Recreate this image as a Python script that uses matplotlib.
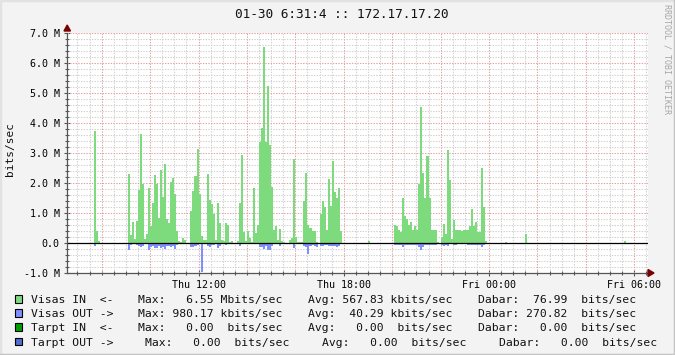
import numpy as np
import matplotlib
matplotlib.use("Agg")
import matplotlib.pyplot as plt
from matplotlib.lines import Line2D
from matplotlib.patches import Rectangle, Polygon

# ---------------- data (Mbit/s, 5-minute samples) ----------------
title = "01-30 6:31:4 :: 172.17.17.20"
y_label = "bits/sec"
watermark = "RRDTOOL / TOBI OETIKER"

# window: Thu 06:34 -> Fri 06:34 (hours since Thu 00:00)
window_start = 6 + 34 / 60
window_end = window_start + 24
slot0_hour = 6.0          # first 5-minute slot starts Thu 06:00

x_tick_hours = [12, 18, 24, 30]
x_tick_labels = ["Thu 12:00", "Thu 18:00", "Fri 00:00", "Fri 06:00"]
y_tick_values = [7, 6, 5, 4, 3, 2, 1, 0, -1]
y_tick_labels = ["7.0 M", "6.0 M", "5.0 M", "4.0 M", "3.0 M", "2.0 M", "1.0 M", "0.0", "-1.0 M"]

# start slot (5-min index from Thu 06:00) of each burst
burst_start_slots = [20, 37, 68, 117, 132, 156, 169, 224, 234, 283]

in_a = [3.74, 0.40, 0.07]
in_b = [2.30, 0.27, 0.70, 0.13, 0.73, 1.77, 3.63, 1.97, 0.13, 0.30, 1.83, 0.57, 1.33, 2.27, 1.97, 0.83,
        2.43, 1.53, 2.63, 0.80, 0.67, 2.03, 2.17, 1.63, 0.40, 0.07, 0.03, 0.17, 0.10]
in_c = [1.07, 1.73, 2.23, 3.13, 1.63, 0.23, 0.10, 0.10, 2.30, 1.43, 1.30, 0.97, 0.10, 1.33, 0.67, 0.10,
        0.07, 0.67, 0.60, 0.03,
        0.07, 0.00, 0.00, 0.07, 1.33, 2.93, 0.37, 0.07, 0.40, 0.17, 0.03, 1.83, 0.33, 0.60, 3.37, 3.83,
        6.55, 3.37, 5.23, 3.27, 1.87, 0.43, 0.57, 0.10, 0.47, 0.07, 0.03]
in_d = [0.10, 0.17, 2.80, 0.20, 0.03, 0.03, 0.03, 1.40, 2.33, 0.60, 0.50, 0.40, 0.40, 0.03]
in_e = [0.97, 1.40, 1.20, 0.43, 2.13, 1.23, 2.73, 1.70, 1.50, 1.83, 0.40]
in_f = [0.07]
in_g = [0.60, 0.57, 0.43, 0.37, 1.50, 0.90, 0.80, 0.60, 0.70, 0.43, 0.57, 0.43, 1.97, 4.53, 2.33, 1.50,
        2.90, 1.50, 0.43, 0.43, 0.43, 0.03,
        0.00, 0.20, 0.63, 0.30, 3.10, 2.10, 0.13, 0.77, 0.43, 0.43, 0.43, 0.40, 0.43, 0.43, 0.43, 0.57,
        1.13, 0.57, 0.70, 0.37, 0.37, 2.50, 1.20, 0.07]
in_h = [0.03]
in_i = [0.30]
in_j = [0.07]

out_a = [0.09, 0.00, 0.00]
out_b = [0.22, 0.07, 0.03, 0.03, 0.07, 0.10, 0.13, 0.10, 0.03, 0.03, 0.23, 0.13, 0.10, 0.17, 0.17, 0.10,
         0.17, 0.13, 0.20, 0.10, 0.10, 0.13, 0.10, 0.20, 0.07, 0.03, 0.03, 0.03, 0.03]
out_c = [0.13, 0.13, 0.10, 0.07, 0.03, 0.98, 0.03, 0.03, 0.10, 0.13, 0.07, 0.07, 0.03, 0.17, 0.10, 0.03,
         0.03, 0.07, 0.03, 0.00,
         0.03, 0.00, 0.00, 0.03, 0.10, 0.03, 0.03, 0.03, 0.03, 0.03, 0.03, 0.03, 0.03, 0.03, 0.13, 0.13,
         0.20, 0.10, 0.23, 0.23, 0.10, 0.03, 0.03, 0.03, 0.10, 0.03, 0.03]
out_d = [0.03, 0.03, 0.17, 0.03, 0.03, 0.03, 0.03, 0.10, 0.13, 0.37, 0.10, 0.07, 0.10, 0.13]
out_e = [0.10, 0.10, 0.07, 0.07, 0.10, 0.10, 0.10, 0.10, 0.13, 0.10, 0.03]
out_f = [0.00]
out_g = [0.07, 0.07, 0.07, 0.07, 0.13, 0.07, 0.07, 0.07, 0.07, 0.07, 0.07, 0.07, 0.13, 0.23, 0.13, 0.07,
         0.07, 0.07, 0.07, 0.07, 0.07, 0.00,
         0.00, 0.07, 0.10, 0.07, 0.10, 0.03, 0.00, 0.07, 0.07, 0.00, 0.00, 0.03, 0.03, 0.03, 0.07, 0.07,
         0.07, 0.07, 0.07, 0.07, 0.07, 0.13, 0.07, 0.00]
out_h = [0.00]
out_i = [0.00]
out_j = [0.00]

in_bursts = [in_a, in_b, in_c, in_d, in_e, in_f, in_g, in_h, in_i, in_j]
out_bursts = [out_a, out_b, out_c, out_d, out_e, out_f, out_g, out_h, out_i, out_j]

legend_names = ["Visas IN  <-", "Visas OUT ->", "Tarpt IN  <-", "Tarpt OUT ->"]
legend_max = ["Max:   6.55 Mbits/sec", "Max: 980.17 kbits/sec", "Max:   0.00  bits/sec", "Max:   0.00  bits/sec"]
legend_avg = ["Avg: 567.83 kbits/sec", "Avg:  40.29 kbits/sec", "Avg:   0.00  bits/sec", "Avg:   0.00  bits/sec"]
legend_min = ["Dabar:  76.99  bits/sec", "Dabar: 270.82  bits/sec", "Dabar:   0.00  bits/sec", "Dabar:   0.00  bits/sec"]

# ---------------- styling ----------------
W, H = 675, 355
BG = "#f3f3f3"
C_IN = "#7ddb7d"
C_OUT = "#7f8fff"
C_TIN = "#00a000"
C_TOUT = "#4f6fcf"
MONO = "DejaVu Sans Mono"

fig = plt.figure(figsize=(W / 100, H / 100), dpi=100, facecolor=BG)

def fx(x):
    return x / W

def fy(y):
    return 1 - y / H

L, R, T, B = 67, 648, 33, 273
ax = fig.add_axes([fx(L), fy(B), (R - L) / W, (B - T) / H])
ax.set_facecolor("white")

# series
n_slots = 300
vals_in = np.zeros(n_slots)
vals_out = np.zeros(n_slots)
for s, a, b in zip(burst_start_slots, in_bursts, out_bursts):
    vals_in[s:s + len(a)] = a
    vals_out[s:s + len(b)] = b
edges = slot0_hour + np.arange(n_slots + 1) / 12.0

ax.stairs(vals_in, edges, fill=True, color=C_IN, linewidth=0, antialiased=False, zorder=3)
ax.stairs(-vals_out, edges, fill=True, color=C_OUT, linewidth=0, antialiased=False, zorder=3)
ax.axhline(0, color="black", linewidth=0.9, zorder=4)

ax.set_xlim(window_start, window_end)
ax.set_ylim(-1, 7)

# grid
major_x = np.arange(8, 31, 2)
minor_x = np.arange(7, 31, 0.5)
for h in minor_x:
    if h % 2 != 0:
        ax.axvline(h, color="#d0d0d0", linewidth=0.75, linestyle=(0, (1.3, 1.3)), zorder=1)
for h in major_x:
    ax.axvline(h, color="#e6a0a0", linewidth=0.75, linestyle=(0, (1.3, 1.3)), zorder=2)
for v in np.arange(-0.8, 7.0, 0.2):
    if abs(v - round(v)) > 1e-6:
        ax.axhline(v, color="#d0d0d0", linewidth=0.75, linestyle=(0, (1.3, 1.3)), zorder=1)
for v in range(-1, 8):
    ax.axhline(v, color="#e6a0a0", linewidth=0.75, linestyle=(0, (1.3, 1.3)), zorder=2)

for s in ["top", "right"]:
    ax.spines[s].set_visible(False)
for s in ["left", "bottom"]:
    ax.spines[s].set_color("#555555")
    ax.spines[s].set_linewidth(0.9)
    ax.spines[s].set_zorder(5)

ax.set_yticks(y_tick_values)
ax.set_yticklabels(y_tick_labels, fontfamily=MONO, fontsize=7.2)
ax.set_yticks(np.arange(-1, 7.01, 0.2), minor=True)
ax.set_xticks(x_tick_hours)
ax.set_xticklabels(x_tick_labels, fontfamily=MONO, fontsize=7.2)
ax.set_xticks(minor_x, minor=True)
ax.tick_params(axis="both", which="major", direction="inout", length=4, width=0.8, color="#555555", pad=3.2)
ax.tick_params(axis="both", which="minor", direction="inout", length=3, width=0.8, color="#555555")

# arrows
fig.add_artist(Polygon([[fx(64), fy(31)], [fx(70.5), fy(31)], [fx(67.2), fy(25)]], closed=True,
                       color="#7a0000", transform=fig.transFigure))
fig.add_artist(Polygon([[fx(648), fy(269.5)], [fx(648), fy(276.5)], [fx(654), fy(273)]], closed=True,
                       color="#7a0000", transform=fig.transFigure))

# titles
fig.text(fx(342), fy(18.3), title, fontfamily=MONO, fontsize=9.2, ha="center", va="baseline", color="#111111")
fig.text(fx(10), fy(149), y_label, fontfamily=MONO, fontsize=8.0, ha="center", va="center",
         rotation=90, color="#111111")
fig.text(fx(666.5), fy(4), watermark, fontfamily=MONO, fontsize=6.0, ha="center", va="top",
         rotation=270, color="#a6a6a6")

# legend
box_colors = [C_IN, C_OUT, C_TIN, C_TOUT]
row_base = [303, 317.2, 331.4, 345.6]
max_x = [137.9, 137.9, 137.9, 145.3]
avg_x = [308.2, 308.2, 308.2, 322.4]
min_x = [477.6, 477.6, 477.6, 499.0]
for i in range(4):
    yb = row_base[i]
    fig.add_artist(Rectangle((fx(15), fy(yb - 0.5)), 7 / W, 7.5 / H, transform=fig.transFigure,
                             facecolor=box_colors[i], edgecolor="black", linewidth=0.8))
    kw = dict(fontfamily=MONO, fontsize=8.2, ha="left", va="baseline", color="#111111")
    fig.text(fx(31), fy(yb), legend_names[i], **kw)
    fig.text(fx(max_x[i]), fy(yb), legend_max[i], **kw)
    fig.text(fx(avg_x[i]), fy(yb), legend_avg[i], **kw)
    fig.text(fx(min_x[i]), fy(yb), legend_min[i], **kw)

# 3D frame
fig.add_artist(Line2D([0, 0, 1], [0, 1, 1], transform=fig.transFigure, color="#e2e2e2", linewidth=2.5))
fig.add_artist(Line2D([0, 1, 1], [0, 0, 1], transform=fig.transFigure, color="#c4c4c4", linewidth=2.5))

fig.savefig("out.png", dpi=100, facecolor=BG)
